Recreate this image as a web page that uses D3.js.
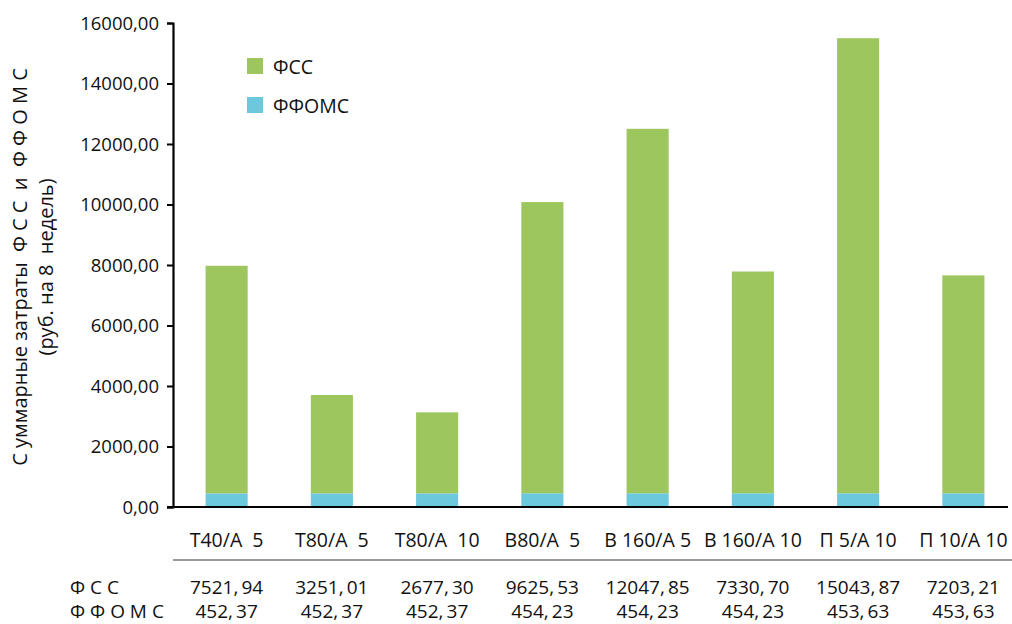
<!DOCTYPE html>
<html>
<head>
<meta charset="utf-8">
<script src="https://cdn.jsdelivr.net/npm/d3@7"></script>
<style>
  html, body { margin: 0; padding: 0; background: #fff; }
  svg text { font-family: "Open Sans", "Noto Sans", sans-serif; fill: #111; white-space: pre; }
</style>
</head>
<body>
<svg id="chart" width="1012" height="624"></svg>
<script>
// Scheme categories
const categories = ["Т40/А  5", "Т80/А  5", "Т80/А  10", "В80/А  5", "В 160/А 5", "В 160/А 10", "П 5/А 10", "П 10/А 10"];
// Costs per scheme, rub. for 8 weeks
const fssValues = [7521.94, 3251.01, 2677.30, 9625.53, 12047.85, 7330.70, 15043.87, 7203.21];
const ffomsValues = [452.37, 452.37, 452.37, 454.23, 454.23, 454.23, 453.63, 453.63];
const seriesNames = ["ФСС", "ФФОМС"];
const seriesColors = ["#9dc75e", "#6cc8dc"];
const rowLabels = ["Ф С С", "Ф Ф О М С"];
const yTicks = [0, 2000, 4000, 6000, 8000, 10000, 12000, 14000, 16000];

const svg = d3.select("#chart");
const fmt = v => d3.format(".2f")(v).replace(".", ",");

const x = d3.scaleBand().domain(categories).range([174, 1016]).paddingInner(0.6).paddingOuter(0.3);
const y = d3.scaleLinear().domain([0, 16000]).range([507, 23]);

// Stacked bars: ФФОМС at the base, ФСС on top
const rows = categories.map((c, i) => ({ cat: c, ffoms: ffomsValues[i], fss: fssValues[i] }));
const stack = d3.stack().keys(["ffoms", "fss"])(rows);
const colorByKey = { ffoms: seriesColors[1], fss: seriesColors[0] };

svg.append("g").selectAll("g").data(stack).join("g")
  .attr("fill", d => colorByKey[d.key])
  .selectAll("rect").data(d => d).join("rect")
  .attr("x", d => x(d.data.cat))
  .attr("width", x.bandwidth())
  .attr("y", d => y(d[1]))
  .attr("height", d => y(d[0]) - y(d[1]));

// Y axis
const yAxis = svg.append("g").attr("transform", "translate(173,0)")
  .call(d3.axisLeft(y).tickValues(yTicks).tickSize(6).tickPadding(8).tickFormat(fmt));
yAxis.select(".domain").attr("stroke", "#000").attr("stroke-width", 2.2);
yAxis.selectAll(".tick line").attr("stroke", "#000").attr("stroke-width", 2);
yAxis.selectAll(".tick text").attr("font-size", 18.5).attr("dy", "0.34em")
  .attr("font-family", "'Open Sans', sans-serif").attr("fill", "#111");

// X axis baseline
svg.append("line").attr("x1", 167).attr("x2", 1008).attr("y1", y(0)).attr("y2", y(0))
  .attr("stroke", "#000").attr("stroke-width", 2.2);

// Category labels
svg.append("g").selectAll("text").data(categories).join("text")
  .attr("x", d => x(d) + x.bandwidth() / 2)
  .attr("y", 547)
  .attr("text-anchor", "middle")
  .attr("font-size", 19.5)
  .text(d => d);

// Separator line of the data table
svg.append("line").attr("x1", 173).attr("x2", 1012).attr("y1", 560).attr("y2", 560)
  .attr("stroke", "#333").attr("stroke-width", 1.2);

// Data table rows
const tableRows = [fssValues, ffomsValues];
const rowY = [594, 618];
tableRows.forEach((vals, r) => {
  svg.append("text").attr("x", 70).attr("y", rowY[r]).attr("font-size", 19).text(rowLabels[r]);
  svg.append("g").selectAll("text").data(vals).join("text")
    .attr("x", (d, i) => x(categories[i]) + x.bandwidth() / 2)
    .attr("y", rowY[r])
    .attr("text-anchor", "middle")
    .attr("font-size", 19)
    .text(d => fmt(d).replace(",", ",\u2009"));
});

// Legend
const legend = svg.append("g");
seriesNames.forEach((name, i) => {
  legend.append("rect").attr("x", 247).attr("y", 58 + i * 39).attr("width", 16).attr("height", 16)
    .attr("fill", seriesColors[i]);
  legend.append("text").attr("x", 273).attr("y", 74 + i * 39).attr("font-size", 19.5).text(name);
});

// Y axis title
const title = svg.append("text")
  .attr("transform", "translate(0,267) rotate(-90)")
  .attr("text-anchor", "middle")
  .attr("font-size", 20);
title.append("tspan").attr("x", 0).attr("y", 27).text("С уммарные затраты  Ф С С  и  Ф Ф О М С");
title.append("tspan").attr("x", 0).attr("y", 53).text("(руб. на 8  недель)");
</script>
</body>
</html>
